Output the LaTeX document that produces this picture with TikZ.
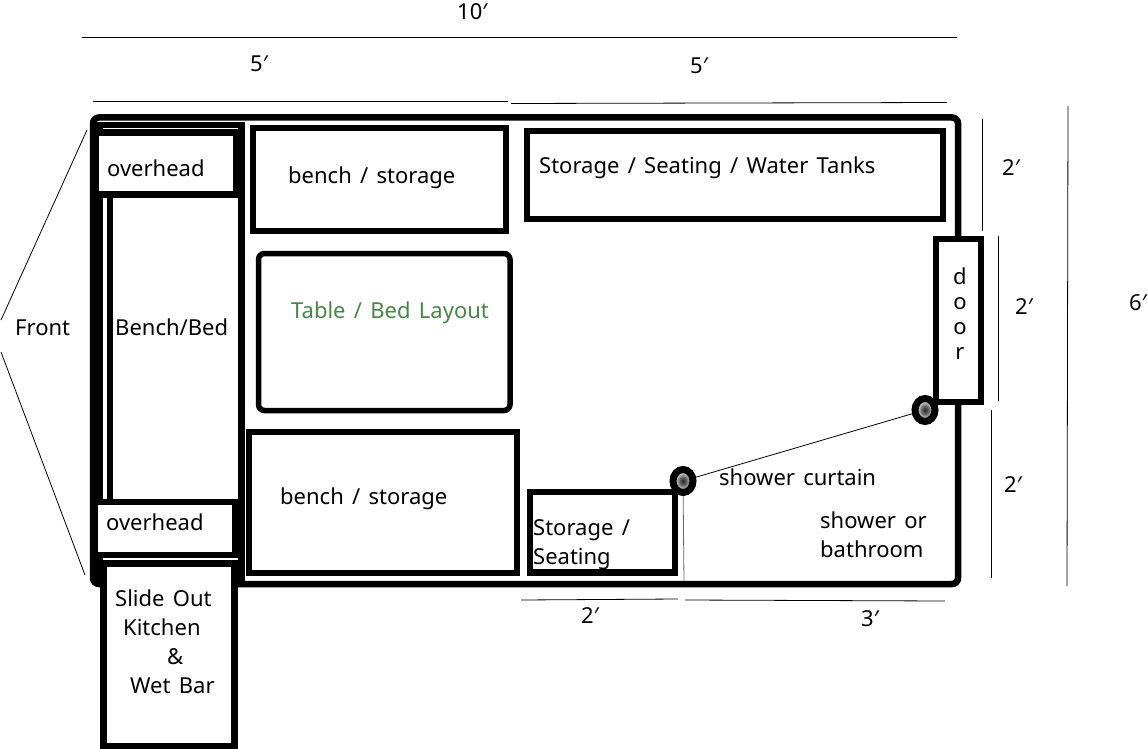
\documentclass[tikz,border=0pt]{standalone}
\usepackage{fontspec}
\setmainfont[WordSpace=1.45]{Noto Sans}
\usetikzlibrary{shapes.geometric}
\definecolor{tablegreen}{RGB}{72,135,72}
\pgfdeclareradialshading{hookglow}{\pgfpoint{0bp}{0bp}}{color(0bp)=(black!85); color(9bp)=(black!60); color(22bp)=(white); color(50bp)=(white)}

\begin{document}
\begin{tikzpicture}[x=1pt,y=-1pt]
        \tikzstyle{wall} = [rectangle, draw=black, line width=6.5pt, inner sep=0pt, outer sep=0pt, rounded corners=6pt, minimum width=865pt, minimum height=466.5pt]
        \tikzstyle{box} = [rectangle, draw=black, line width=6.5pt, fill=white, inner sep=0pt, outer sep=0pt]
        \tikzstyle{roundbox} = [box, line width=5.5pt, rounded corners=6pt]
        \tikzstyle{hook} = [ellipse, draw=black, line width=7pt, minimum width=20pt, minimum height=23pt, inner sep=0pt, shading=hookglow]
        \tikzstyle{dim} = [black, line width=0.8pt]
        \tikzstyle{txt} = [anchor=base west, inner sep=0pt, font=\fontsize{22}{29}\selectfont]

        \useasboundingbox (0,0) rectangle (1148,749);

        % Nodes
        \node (wallbox) [wall] at (525.5,350.75) {};
        \node (frame) [box, minimum width=142pt, minimum height=452.5pt, fill=none] at (170.5,351.25) {};
        \node (bed) [box, minimum width=131.5pt, minimum height=308pt] at (175.75,348) {};
        \node (topover) [box, line width=7pt, minimum width=141pt, minimum height=61.5pt] at (165.5,163.25) {};
        \node (lowover) [box, minimum width=140pt, minimum height=53pt] at (165,528.5) {};
        \node (slideout) [box, line width=7pt, minimum width=130.5pt, minimum height=182.5pt] at (168.75,654.75) {};
        \node (topbench) [box, line width=6pt, minimum width=253pt, minimum height=103pt] at (379.5,179.5) {};
        \node (table) [roundbox, minimum width=251.5pt, minimum height=157pt] at (384.25,332) {};
        \node (lowbench) [box, line width=6pt, minimum width=268pt, minimum height=141pt] at (383,502.5) {};
        \node (tanks) [box, minimum width=416pt, minimum height=88pt] at (735,175) {};
        \node (door) [box, minimum width=45pt, minimum height=163pt] at (958.5,320.5) {};
        \node (seating) [box, minimum width=145pt, minimum height=80.5pt] at (602.5,532.25) {};
        \node (hooka) [hook] at (683,481) {};
        \node (hookb) [hook] at (925,410) {};

        \node (labelten) [txt] at (457,19.5) {10′};
        \node (labelfivea) [txt] at (250,71.5) {5′};
        \node (labelfiveb) [txt] at (690,73.5) {5′};
        \node (labeltopover) [txt] at (107,176.5) {overhead};
        \node (labeltopbench) [txt] at (288,183) {bench / storage};
        \node (labeltanks) [txt] at (539,173.5) {Storage / Seating / Water Tanks};
        \node (labeltable) [txt, text=tablegreen] at (291,318.5) {Table / Bed Layout};
        \node (labelfront) [txt] at (15,335.5) {Front};
        \node (labelbed) [txt] at (115,335.5) {Bench/Bed};
        \node (labeldoor) [txt, anchor=center, align=center, font=\fontsize{22}{25}\selectfont] at (960,314) {d\\o\\o\\r};
        \node (labeltworighta) [txt] at (1002,175.5) {2′};
        \node (labeltworightb) [txt] at (1015,314.5) {2′};
        \node (labelsix) [txt] at (1129,310.5) {6′};
        \node (labeltworightc) [txt] at (1004,492.5) {2′};
        \node (labellowover) [txt] at (106,530.5) {overhead};
        \node (labellowbench) [txt] at (280,504.5) {bench / storage};
        \node (labelcurtain) [txt] at (719,485.5) {shower curtain};
        \node (labelshower) [txt, align=left] at (820,557.5) {shower or\\bathroom};
        \node (labelseating) [txt, align=left] at (533,564.5) {Storage /\\Seating};
        \node (labelslide) [txt] at (115,606.5) {Slide Out};
        \node (labelkitchen) [txt] at (123,635.5) {Kitchen};
        \node (labeland) [txt] at (167,664.5) {\&};
        \node (labelbar) [txt] at (130,693.5) {Wet Bar};
        \node (labeltwolow) [txt] at (581,623.5) {2′};
        \node (labelthree) [txt] at (861,626.5) {3′};

        % Dimension ends
        \coordinate (tena) at (82,37);
        \coordinate (tenb) at (957,37);
        \coordinate (fiveaa) at (93,101);
        \coordinate (fiveab) at (508,101);
        \coordinate (fiveba) at (511,103.5);
        \coordinate (fivebb) at (947,102.5);
        \coordinate (righta) at (982,119);
        \coordinate (rightb) at (982,231);
        \coordinate (rightc) at (998,236);
        \coordinate (rightd) at (998,401);
        \coordinate (righte) at (991,410);
        \coordinate (rightf) at (991,578);
        \coordinate (sixa) at (1068,106);
        \coordinate (sixb) at (1067,586);
        \coordinate (lowa) at (521,600);
        \coordinate (lowb) at (678,599);
        \coordinate (lowc) at (685,600);
        \coordinate (lowd) at (945,601);
        \coordinate (fronta) at (87,130);
        \coordinate (frontb) at (1,320);
        \coordinate (frontc) at (1,352);
        \coordinate (frontd) at (85,575);
        \coordinate (curtainend) at (684,581);

        % Lines
        \draw [dim] (tena) -- (tenb);
        \draw [dim] (fiveaa) -- (fiveab);
        \draw [dim] (fiveba) -- (fivebb);
        \draw [dim] (righta) -- (rightb);
        \draw [dim] (rightc) -- (rightd);
        \draw [dim] (righte) -- (rightf);
        \draw [dim] (sixa) -- (sixb);
        \draw [dim] (lowa) -- (lowb);
        \draw [dim] (lowc) -- (lowd);
        \draw [dim] (fronta) -- (frontb);
        \draw [dim] (frontc) -- (frontd);
        \draw [dim] (hooka) -- (hookb);
        \draw [dim, black!60] (hooka) -- (curtainend);

    \end{tikzpicture}
\end{document}
